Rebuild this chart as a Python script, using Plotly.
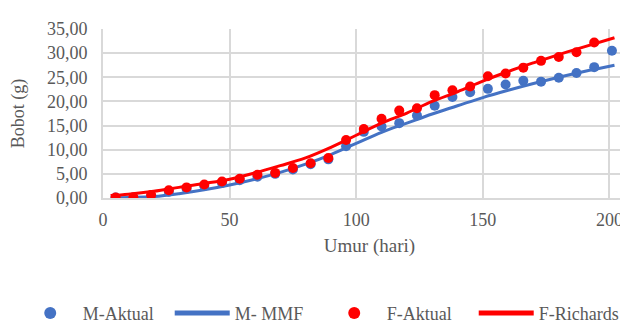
import plotly.graph_objects as go

# Observed data (days, weekly from day 5)
days_m = [5, 12, 19, 26, 33, 40, 47, 54, 61, 68, 75, 82, 89, 96, 103, 110, 117, 124,
          131, 138, 145, 152, 159, 166, 173, 180, 187, 194, 201]
m_aktual = [0.1, 0.1, 0.4, 1.3, 1.9, 2.5, 3.1, 3.7, 4.4, 5.0, 5.9, 7.0, 8.0, 10.7, 13.7,
            14.8, 15.5, 17.1, 19.1, 20.9, 21.9, 22.6, 23.5, 24.3, 24.1, 24.9, 25.9, 27.1, 30.5]

days_f = [5, 12, 19, 26, 33, 40, 47, 54, 61, 68, 75, 82, 89, 96, 103, 110, 117, 124,
          131, 138, 145, 152, 159, 166, 173, 180, 187, 194]
f_aktual = [0.1, 0.1, 0.6, 1.6, 2.2, 2.8, 3.4, 4.0, 4.8, 5.2, 6.2, 7.2, 8.3, 12.0, 14.3,
            16.4, 18.1, 18.6, 21.3, 22.3, 23.1, 25.2, 25.8, 27.0, 28.4, 29.2, 30.2, 32.2]

# Model curves
days_curve = [3, 10, 20, 30, 40, 50, 60, 70, 80, 90, 100, 110, 120, 130, 140, 150, 160,
              170, 180, 190, 202]
m_mmf = [0.0, 0.1, 0.3, 0.9, 1.7, 2.7, 3.9, 5.3, 7.0, 9.0, 11.3, 13.6, 15.5, 17.4, 19.1,
         20.8, 22.3, 23.7, 25.0, 26.2, 27.5]
f_richards = [0.5, 0.8, 1.4, 2.2, 3.0, 3.9, 5.2, 6.7, 8.3, 10.5, 13.0, 15.5, 17.6, 20.0,
              22.0, 24.2, 26.2, 28.0, 29.7, 31.3, 33.2]

x_ticks = [0, 50, 100, 150, 200]
y_ticks = [0, 5, 10, 15, 20, 25, 30, 35]
y_tick_text = ["0,00", "5,00", "10,00", "15,00", "20,00", "25,00", "30,00", "35,00"]

BLUE = "#4472C4"
RED = "#FF0000"
FONT = "'Liberation Serif', 'Times New Roman', 'DejaVu Serif', serif"
GRAY = "#595959"

def f(size):
    return dict(family=FONT, size=size, color=GRAY)

fig = go.Figure()
fig.add_trace(go.Scatter(x=days_m, y=m_aktual, mode="markers", name="M-Aktual",
                         marker=dict(color=BLUE, size=10)))
fig.add_trace(go.Scatter(x=days_curve, y=m_mmf, mode="lines", name="M- MMF",
                         line=dict(color=BLUE, width=3, shape="spline")))
fig.add_trace(go.Scatter(x=days_f, y=f_aktual, mode="markers", name="F-Aktual",
                         marker=dict(color=RED, size=10)))
fig.add_trace(go.Scatter(x=days_curve, y=f_richards, mode="lines", name="F-Richards",
                         line=dict(color=RED, width=3, shape="spline")))

fig.update_layout(
    width=628, height=324,
    margin=dict(l=95, r=0, t=21, b=127),
    paper_bgcolor="white", plot_bgcolor="white",
    font=f(18),
    showlegend=True,
    legend=dict(orientation="h", xref="paper", x=-0.160, xanchor="left",
                yref="paper", y=-0.682, yanchor="middle",
                font=f(18), itemwidth=55, entrywidth=82, entrywidthmode="pixels",
                tracegroupgap=0, itemsizing="constant"),
    xaxis=dict(range=[0, 210.5], tickvals=x_ticks, showgrid=True, gridcolor="#d9d9d9",
               gridwidth=2, zeroline=False, showline=True, linecolor="#d9d9d9", linewidth=2,
               ticks="", tickfont=f(18), ticklabelstandoff=4,
               title=dict(text="Umur (hari)", font=f(19), standoff=10)),
    yaxis=dict(range=[0, 35], tickvals=y_ticks, ticktext=y_tick_text, showgrid=True,
               gridcolor="#d9d9d9", gridwidth=2, zeroline=False, showline=True,
               linecolor="#d9d9d9", linewidth=2, ticks="", ticklabelstandoff=10,
               tickfont=f(18),
               title=dict(text="Bobot (g)", font=f(18), standoff=18)),
)

fig.write_html("out.html")
